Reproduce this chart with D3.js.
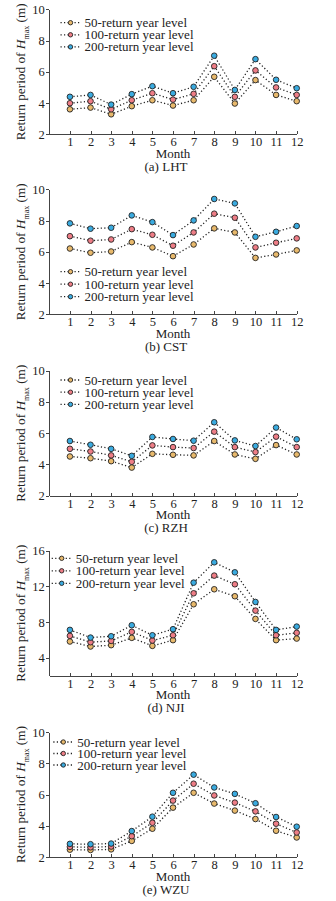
<!DOCTYPE html>
<html lang="en">
<head>
    <meta charset="UTF-8">
    <title>Return period of Hmax by month</title>
    <script src="https://d3js.org/d3.v7.min.js"></script>
    <style>
        body { margin: 0; background: #fff; }
        svg { display: block; }
        text { font-family: "Liberation Serif", "Times New Roman", serif; fill: #222; }
        .axis path, .axis line { stroke: #444; stroke-width: 1; shape-rendering: crispEdges; }
        .axis text { font-size: 12.5px; font-family: "Liberation Serif", "Times New Roman", serif; fill: #222; }
        .dotline { fill: none; stroke: #222; stroke-width: 1.3; stroke-dasharray: 1.2 2.3; }
        .dot { stroke: #222; stroke-width: 0.9; }
    </style>
</head>
<body>
<div id="chart"></div>
<script>
    const months = [1, 2, 3, 4, 5, 6, 7, 8, 9, 10, 11, 12];
    const seriesNames = ["50-return year level", "100-return year level", "200-return year level"];
    const colors = ["#e8b96c", "#ee7d86", "#3aabe0"];

    // LHT
    const lht50  = [3.60, 3.71, 3.28, 3.80, 4.18, 3.84, 4.18, 5.68, 3.97, 5.47, 4.52, 4.12];
    const lht100 = [3.99, 4.12, 3.60, 4.18, 4.63, 4.22, 4.59, 6.36, 4.40, 6.09, 5.00, 4.52];
    const lht200 = [4.40, 4.52, 3.90, 4.57, 5.08, 4.63, 5.04, 7.03, 4.84, 6.81, 5.49, 4.95];
    // CST
    const cst50  = [6.21, 5.94, 6.02, 6.62, 6.28, 5.72, 6.47, 7.50, 7.24, 5.61, 5.83, 6.09];
    const cst100 = [7.00, 6.71, 6.79, 7.45, 7.09, 6.39, 7.24, 8.44, 8.18, 6.28, 6.58, 6.86];
    const cst200 = [7.82, 7.48, 7.54, 8.33, 7.90, 7.07, 8.01, 9.38, 9.10, 6.96, 7.28, 7.65];
    // RZH
    const rzh50  = [4.51, 4.40, 4.21, 3.80, 4.68, 4.62, 4.58, 5.50, 4.64, 4.36, 5.24, 4.64];
    const rzh100 = [5.00, 4.83, 4.58, 4.17, 5.22, 5.11, 5.05, 6.10, 5.11, 4.79, 5.78, 5.11];
    const rzh200 = [5.50, 5.26, 5.00, 4.55, 5.76, 5.63, 5.52, 6.70, 5.54, 5.18, 6.36, 5.61];
    // NJI
    const nji50  = [5.83, 5.27, 5.42, 6.24, 5.34, 5.98, 10.00, 11.68, 10.90, 8.36, 5.98, 6.16];
    const nji100 = [6.46, 5.75, 5.90, 6.91, 5.94, 6.53, 11.23, 13.21, 12.24, 9.29, 6.53, 6.80];
    const nji200 = [7.13, 6.27, 6.42, 7.65, 6.53, 7.21, 12.42, 14.70, 13.58, 10.26, 7.13, 7.50];
    // WZU
    const wzu50  = [2.47, 2.45, 2.49, 3.03, 3.81, 5.16, 6.11, 5.42, 4.97, 4.43, 3.68, 3.25];
    const wzu100 = [2.65, 2.62, 2.67, 3.33, 4.19, 5.61, 6.69, 5.94, 5.48, 4.92, 4.13, 3.57];
    const wzu200 = [2.84, 2.82, 2.86, 3.66, 4.58, 6.11, 7.27, 6.45, 6.04, 5.44, 4.56, 3.94];

    const yTicksA = [2, 4, 6, 8, 10];
    const yTicksD = [4, 8, 12, 16];

    // panel layout: top of plot area, y domain, legend placement
    const panels = [
        {caption: "(a) LHT", series: [lht50, lht100, lht200], top: 9.3,  domain: [2, 10], ticks: yTicksA, legY: 13.4, legX: 70.5, legDy: 12.1},
        {caption: "(b) CST", series: [cst50, cst100, cst200], top: 189.3, domain: [2, 10], ticks: yTicksA, legY: 82.4, legX: 70.5, legDy: 12.5},
        {caption: "(c) RZH", series: [rzh50, rzh100, rzh200], top: 370.7, domain: [2, 10], ticks: yTicksA, legY: 9.3,  legX: 70.5, legDy: 12.2},
        {caption: "(d) NJI", series: [nji50, nji100, nji200], top: 550.7, domain: [2, 16], ticks: yTicksD, legY: 7.6,  legX: 61.7, legDy: 12.5},
        {caption: "(e) WZU", series: [wzu50, wzu100, wzu200], top: 732,  domain: [2, 10], ticks: yTicksA, legY: 10,   legX: 63.3, legDy: 11.5}
    ];

    const W = 336, H = 901;
    const left = 49.3, right = 296.7, plotH = 125;

    const svg = d3.select("#chart").append("svg")
        .attr("width", W)
        .attr("height", H);

    const x = d3.scaleLinear().domain([0, 12]).range([left, right]);

    panels.forEach(p => {
        const g = svg.append("g").attr("transform", "translate(0," + p.top + ")");
        const y = d3.scaleLinear().domain(p.domain).range([plotH, 0]);

        g.append("g")
            .attr("class", "axis")
            .attr("transform", "translate(0," + plotH + ")")
            .call(d3.axisBottom(x).tickValues(months).tickSize(-3).tickSizeOuter(0).tickPadding(3));

        g.append("g")
            .attr("class", "axis")
            .attr("transform", "translate(" + left + ",0)")
            .call(d3.axisLeft(y).tickValues(p.ticks).tickSize(3).tickSizeOuter(0).tickPadding(1.5));

        // y axis title
        const yt = g.append("text")
            .attr("transform", "translate(24.5," + (plotH / 2) + ") rotate(-90)")
            .attr("text-anchor", "middle")
            .style("font-size", "13.3px");
        yt.append("tspan").text("Return period of ");
        yt.append("tspan").style("font-style", "italic").text("H");
        yt.append("tspan").attr("dy", 4).style("font-size", "8px").text("max");
        yt.append("tspan").attr("dy", -4).text(" (m)");

        g.append("text")
            .attr("x", (left + right) / 2)
            .attr("y", plotH + 23.5)
            .attr("text-anchor", "middle")
            .style("font-size", "13px")
            .text("Month");

        g.append("text")
            .attr("x", 166)
            .attr("y", plotH + 36.5)
            .attr("text-anchor", "middle")
            .style("font-size", "13px")
            .text(p.caption);

        const line = d3.line()
            .x((d, i) => x(months[i]))
            .y(d => y(d));

        p.series.forEach(s => {
            g.append("path")
                .attr("class", "dotline")
                .attr("d", line(s));
        });

        p.series.forEach((s, k) => {
            g.selectAll(".dot-" + k)
                .data(s)
                .enter().append("circle")
                .attr("class", "dot dot-" + k)
                .attr("r", 2.8)
                .attr("cx", (d, i) => x(months[i]))
                .attr("cy", d => y(d))
                .style("fill", colors[k]);
        });

        // legend
        const leg = g.append("g");
        seriesNames.forEach((name, k) => {
            const ly = p.legY + k * p.legDy;
            leg.append("line")
                .attr("class", "dotline")
                .attr("x1", p.legX - 10).attr("x2", p.legX + 10)
                .attr("y1", ly).attr("y2", ly);
            leg.append("circle")
                .attr("class", "dot")
                .attr("cx", p.legX).attr("cy", ly)
                .attr("r", 2.2)
                .style("fill", colors[k]);
            leg.append("text")
                .attr("x", p.legX + 14)
                .attr("y", ly)
                .attr("dy", "0.35em")
                .style("font-size", "13px")
                .text(name);
        });
    });
</script>
</body>
</html>
